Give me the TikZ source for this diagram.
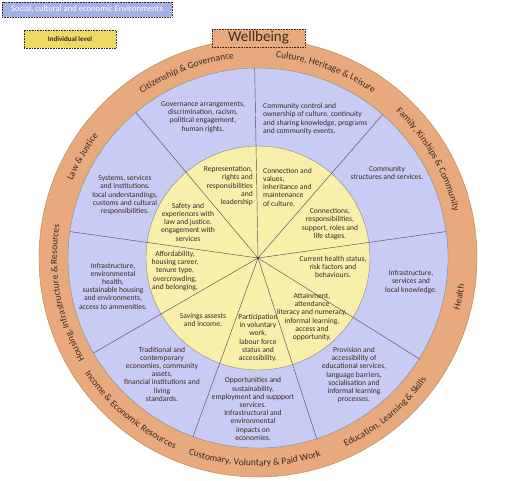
\documentclass[tikz,border=0pt]{standalone}
\usepackage{fontspec}
\setmainfont{Carlito}
\usepackage{tikz}
\usetikzlibrary{decorations.text}
\definecolor{ringorange}{HTML}{E8AA7C}
\definecolor{envblue}{HTML}{C8CCF4}
\definecolor{indyellow}{HTML}{F9EEAA}
\definecolor{legblue}{HTML}{A4B0E8}
\definecolor{legyellow}{HTML}{ECDA64}
\definecolor{ink}{HTML}{3A2A22}
\definecolor{spokegray}{HTML}{55505A}
\definecolor{maroon}{HTML}{6A1A20}
\newcommand{\ringfont}{\fontsize{9.5}{10}\selectfont\color{ink}}

\begin{document}
\begin{tikzpicture}[x=1pt,y=1pt,
  sector/.style={font=\fontsize{7.6}{8.2}\selectfont,text=ink,align=center,inner sep=0pt},
  dotbox/.style={draw=ink,densely dotted,line width=0.6pt,inner sep=0pt},
  spoke/.style={draw=spokegray,line width=0.45pt}]
\useasboundingbox (0,0) rectangle (506,480);
\coordinate (c) at (258,222);
% rings: outer domains, environments, individual level
\fill[ringorange,draw=ringorange!75!black,line width=0.4pt] (c) circle[radius=219];
\fill[envblue,draw=spokegray!70,line width=0.4pt] (c) circle[radius=190];
\fill[indyellow,draw=spokegray!70,line width=0.4pt] (c) circle[radius=112];
\foreach \a in {8,49,91,130,172,210,250,288,328}
  \draw[spoke] (c) -- ++(\a:190);
\fill[maroon] (c) circle[radius=1.4];

% individual level
\node[sector,anchor=east,align=right] (rep) at (253,294) {Representation,\\rights and\\responsibilities\\and\\leadership};
\node[sector,anchor=west,align=left] (cult) at (263,293) {Connection and\\values,\\inheritance and\\maintenance\\of culture.};
\node[sector] (roles) at (330,256) {Connections,\\responsibilities,\\support, roles and\\life stages.};
\node[sector] (hstat) at (333,213) {Current health status,\\risk factors and\\behaviours.};
\node[sector] (attain) at (312,163) {Attainment,\\attendance\\literacy and numeracy,\\informal learning,\\access and\\opportunity.};
\node[sector] (partic) at (258,142) {Participation\\in voluntary\\work,\\labour force\\status and\\accessibility.};
\node[sector] (savings) at (203,160) {Savings assests\\and income.};
\node[sector] (afford) at (175,209) {Affordability,\\housing career,\\tenure type,\\overcrowding,\\and belonging.};
\node[sector] (safety) at (188,258) {Safety and\\experiences with\\law and justice.\\engagement with\\services};

% environments
\node[sector] (govern) at (203,363) {Governance arrangements,\\discrimination, racism,\\political engagement,\\human rights.};
\node[sector,anchor=west,align=left] (control) at (263,361) {Community control and\\ownership of culture, continuity\\and sharing knowledge, programs\\and community events.};
\node[sector] (structs) at (387,307) {Community\\structures and services.};
\node[sector] (hserv) at (411,198) {Infrastructure,\\services and\\local knowledge.};
\node[sector] (provis) at (354,105) {Provision and\\accessibility of\\educational services,\\language barriers,\\socialisation and\\informal learning\\processes.};
\node[sector] (oppor) at (253,71) {Opportunities and\\sustainability,\\employment and suppport\\services.\\Infrastructural and\\environmental\\impacts on\\economies.};
\node[sector] (tradit) at (162,106) {Traditional and\\contemporary\\economies, community\\assets,\\financial institutions and\\living\\standards.};
\node[sector] (infra) at (113,194) {Infrastructure,\\environmental\\health,\\sustainable housing\\and environments,\\access to ammenities.};
\node[sector] (systems) at (125,285) {Systems, services\\and institutions.\\local understandings,\\customs and cultural\\responsibilities.};

% domain names along the ring
\path[decorate,decoration={text along path,text align=center,text={|\ringfont|Culture, Heritage {\&} Leisure}}]
  ([shift={(110:201)}]c) arc[start angle=110,end angle=30,radius=201];
\path[decorate,decoration={text along path,text align=center,text={|\ringfont|Citizenship {\&} Governance}}]
  ([shift={(151:201)}]c) arc[start angle=151,end angle=71,radius=201];
\path[decorate,decoration={text along path,text align=center,text={|\ringfont|Law {\&} Justice}}]
  ([shift={(190:201)}]c) arc[start angle=190,end angle=110,radius=201];
\path[decorate,decoration={text along path,text align=center,text={|\ringfont|Housing, Infrastructure {\&} Resources}}]
  ([shift={(235:201)}]c) arc[start angle=235,end angle=146,radius=201];
\path[decorate,decoration={text along path,text align=center,text={|\ringfont|Family, Kinships {\&} Community}}]
  ([shift={(72:201)}]c) arc[start angle=72,end angle=-12,radius=201];
\path[decorate,decoration={text along path,text align=center,text={|\ringfont|Health}}]
  ([shift={(-51:208)}]c) arc[start angle=-51,end angle=29,radius=208];
\path[decorate,decoration={text along path,text align=center,text={|\ringfont|Education, Learning {\&} Skills}}]
  ([shift={(-92:208)}]c) arc[start angle=-92,end angle=-9,radius=208];
\path[decorate,decoration={text along path,text align=center,text={|\ringfont|Customary, Voluntary {\&} Paid Work}}]
  ([shift={(-135:208)}]c) arc[start angle=-135,end angle=-47,radius=208];
\path[decorate,decoration={text along path,text align=center,text={|\ringfont|Income {\&} Economic Resources}}]
  ([shift={(188:208)}]c) arc[start angle=188,end angle=272,radius=208];

% title and legend
\node[dotbox,fill=ringorange,minimum width=93,minimum height=18,font=\fontsize{15}{16}\selectfont,text=ink] (title) at (258.5,442) {Wellbeing};
\node[dotbox,fill=legblue,minimum width=170,minimum height=15,font=\fontsize{8.6}{9}\selectfont,text=white] (envleg) at (87,470.5) {Social, cultural and economic Environments};
\node[dotbox,fill=legyellow,minimum width=92,minimum height=18,font=\bfseries\fontsize{7}{8}\selectfont,text=ink] (indleg) at (70,441) {Individual level};
\end{tikzpicture}
\end{document}
